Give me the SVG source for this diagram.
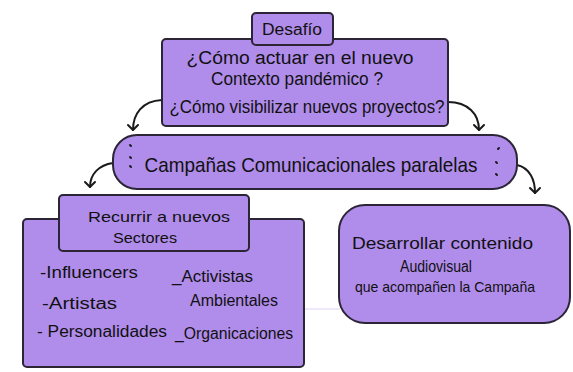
<svg xmlns="http://www.w3.org/2000/svg" width="573" height="372" viewBox="0 0 573 372">
<defs>
<marker id="arr" markerUnits="userSpaceOnUse" markerWidth="14" markerHeight="14" viewBox="-7 -7 14 14" refX="0" refY="0" orient="auto" overflow="visible">
<path d="M-5,-5 L0,0 L-5,5" fill="none" stroke="#1a1a1a" stroke-width="2" stroke-linecap="round" stroke-linejoin="round"/>
</marker>
<style>
.box{fill:#b08ceb;stroke:#2b2535;stroke-width:2}
.t{font-family:"Liberation Sans",Arial,sans-serif;fill:#111;text-anchor:middle}
.l{font-family:"Liberation Sans",Arial,sans-serif;fill:#111}
.c{fill:none;stroke:#1a1a1a;stroke-width:2;stroke-linecap:round}
.d{stroke:#1a1a1a;stroke-width:2;stroke-linecap:round}
</style>
</defs>
<rect width="573" height="372" fill="#ffffff"/>
<line x1="304" y1="309" x2="340" y2="309" stroke="#efe8fb" stroke-width="2"/>
<g id="connectors">
<path class="c" d="M162,100 C142,101 133,114 133,130" marker-end="url(#arr)"/>
<path class="c" d="M448,102 C468,102 479,114 479,130" marker-end="url(#arr)"/>
<path class="c" d="M113,163 C99,165 90,174 90,187" marker-end="url(#arr)"/>
<path class="c" d="M517,165 C530,168 535,180 535,193" marker-end="url(#arr)"/>
</g>
<g id="pregunta">
<rect class="box" x="162" y="39" width="286" height="87" rx="4"/>
<text class="t" x="300" y="64" font-size="18" textLength="227" lengthAdjust="spacingAndGlyphs">¿Cómo actuar en el nuevo</text>
<text class="t" x="297" y="85" font-size="18" textLength="172" lengthAdjust="spacingAndGlyphs">Contexto pandémico ?</text>
<text class="t" x="307" y="113" font-size="18" textLength="275" lengthAdjust="spacingAndGlyphs">¿Cómo visibilizar nuevos proyectos?</text>
</g>
<g id="desafio">
<rect class="box" x="252" y="13" width="81" height="32" rx="4"/>
<text class="t" x="292" y="35" font-size="16" textLength="60" lengthAdjust="spacingAndGlyphs">Desafío</text>
</g>
<g id="campanas">
<rect class="box" x="113" y="135" width="404" height="54" rx="24"/>
<line class="d" x1="130" y1="145" x2="131" y2="146"/>
<line class="d" x1="130" y1="157" x2="131" y2="158"/>
<line class="d" x1="130" y1="166" x2="131" y2="167"/>
<line class="d" x1="498" y1="149" x2="499" y2="148"/>
<line class="d" x1="496" y1="162" x2="497" y2="163"/>
<line class="d" x1="496" y1="174" x2="497" y2="175"/>
<text class="t" x="311" y="172" font-size="21" textLength="333" lengthAdjust="spacingAndGlyphs">Campañas Comunicacionales paralelas</text>
</g>
<g id="sectores">
<rect class="box" x="23" y="219" width="281" height="148" rx="4"/>
<text class="l" x="40" y="278" font-size="16" textLength="98" lengthAdjust="spacingAndGlyphs">-Influencers</text>
<text class="l" x="42" y="309" font-size="16" textLength="75" lengthAdjust="spacingAndGlyphs">-Artistas</text>
<text class="l" x="37" y="337" font-size="16" textLength="130" lengthAdjust="spacingAndGlyphs">- Personalidades</text>
<text class="l" x="172" y="282" font-size="16" textLength="81" lengthAdjust="spacingAndGlyphs">_Activistas</text>
<text class="l" x="190" y="306" font-size="16" textLength="88" lengthAdjust="spacingAndGlyphs">Ambientales</text>
<text class="l" x="175" y="339" font-size="16" textLength="118" lengthAdjust="spacingAndGlyphs">_Organicaciones</text>
</g>
<g id="recurrir">
<rect class="box" x="59" y="195" width="190" height="56" rx="4"/>
<text class="t" x="159" y="222" font-size="15" textLength="142" lengthAdjust="spacingAndGlyphs">Recurrir a nuevos</text>
<text class="t" x="145" y="243" font-size="15" textLength="64" lengthAdjust="spacingAndGlyphs">Sectores</text>
</g>
<g id="audiovisual">
<rect class="box" x="339" y="205" width="231" height="118" rx="26"/>
<text class="l" x="352" y="249" font-size="16" textLength="181" lengthAdjust="spacingAndGlyphs">Desarrollar contenido</text>
<text class="l" x="400" y="272" font-size="16" textLength="72" lengthAdjust="spacingAndGlyphs">Audiovisual</text>
<text class="l" x="355" y="292" font-size="15" textLength="180" lengthAdjust="spacingAndGlyphs">que acompañen la Campaña</text>
</g>
</svg>
